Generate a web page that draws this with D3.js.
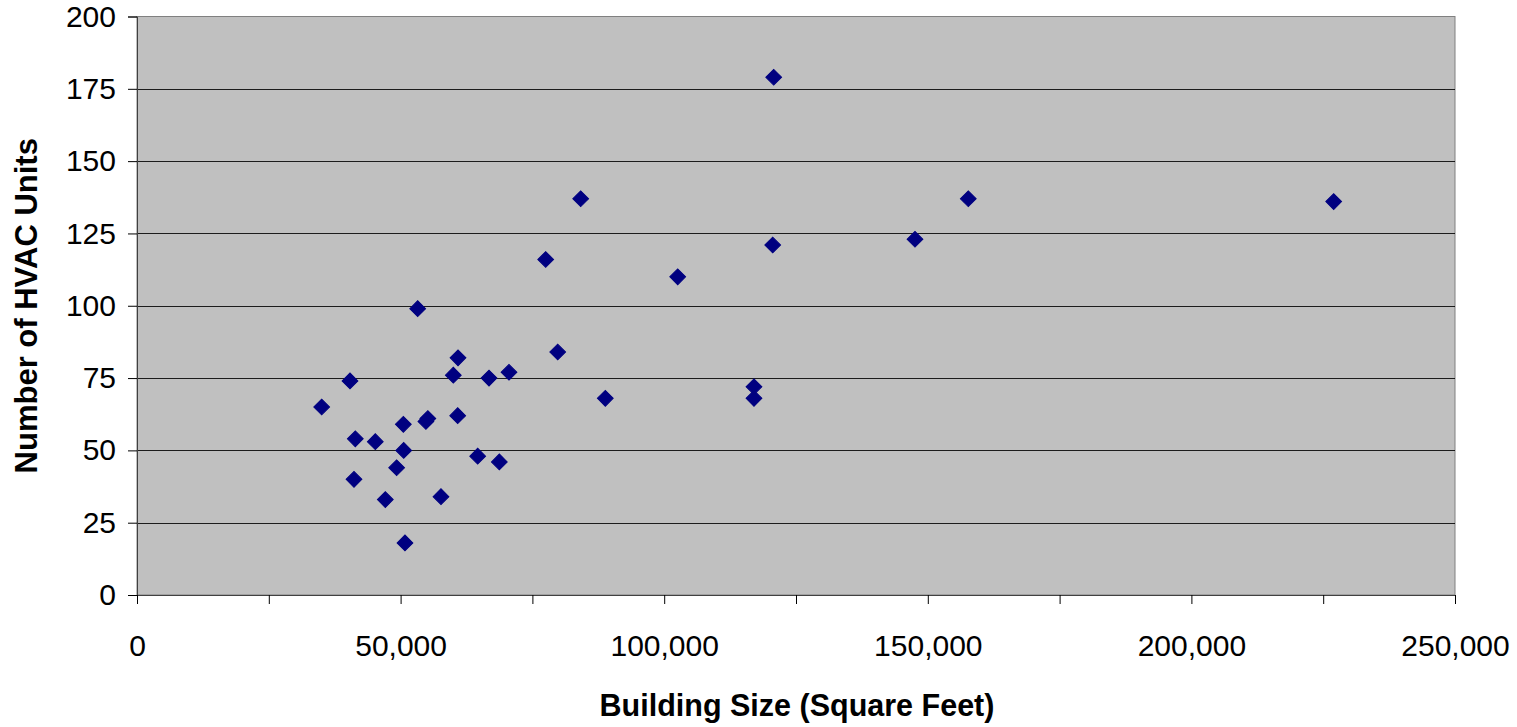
<!DOCTYPE html>
<html>
<head>
<meta charset="utf-8">
<script src="https://cdn.jsdelivr.net/npm/d3@7"></script>
<style>
  html, body { margin: 0; padding: 0; background: #ffffff; }
  svg { display: block; font-family: "Liberation Sans", Arial, sans-serif; }
</style>
</head>
<body>
<svg id="chart" width="1517" height="727"></svg>
<script>
// Building floor area (sq ft) and number of HVAC units per building
const buildingSize = [
  53240, 60890, 40400, 60000, 66770, 70560, 79800, 35030, 88830, 60830,
  55170, 54800, 50520, 41410, 45200, 50590, 64620, 68730, 49250, 41160,
  47100, 57660, 50830, 77520, 84160, 102560, 120770, 120580, 117030, 117030,
  147570, 157680, 226990
];
const hvacUnits = [
  99, 82, 74, 76, 75, 77, 84, 65, 68, 62,
  61, 60, 59, 54, 53, 50, 48, 46, 44, 40,
  33, 34, 18, 116, 137, 110, 179, 121, 72, 68,
  123, 137, 136
];
const xTicks = [0, 50000, 100000, 150000, 200000, 250000];
const xMinorTicks = [25000, 75000, 125000, 175000, 225000];
const yTicks = [0, 25, 50, 75, 100, 125, 150, 175, 200];
const xTitle = "Building Size (Square Feet)";
const yTitle = "Number of HVAC Units";

const points = buildingSize.map((x, i) => ({ x, y: hvacUnits[i] }));

const plot = { left: 137, right: 1455, top: 16.5, bottom: 595 };
const svg = d3.select("#chart");

const x = d3.scaleLinear().domain([0, 250000]).range([plot.left, plot.right]);
const y = d3.scaleLinear().domain([0, 200]).range([plot.bottom, plot.top]);

// plot background
svg.append("rect")
  .attr("x", plot.left).attr("y", plot.top)
  .attr("width", plot.right - plot.left).attr("height", plot.bottom - plot.top)
  .attr("fill", "#c0c0c0")
  .attr("stroke", "#808080").attr("stroke-width", 1);

// horizontal gridlines
svg.append("g").selectAll("line")
  .data(yTicks.filter(d => d > 0 && d < 200))
  .join("line")
  .attr("x1", plot.left).attr("x2", plot.right)
  .attr("y1", d => Math.round(y(d)) + 0.5).attr("y2", d => Math.round(y(d)) + 0.5)
  .attr("stroke", "#000000").attr("stroke-width", 1).attr("opacity", 0.85);

// y axis
const yAxis = svg.append("g")
  .attr("transform", `translate(${plot.left},0)`)
  .call(d3.axisLeft(y).tickValues(yTicks).tickSize(9).tickPadding(12).tickFormat(d3.format("d")));
yAxis.select(".domain").attr("stroke", "#404040");
yAxis.selectAll(".tick line").attr("stroke", "#000");
yAxis.selectAll(".tick text")
  .attr("font-size", "30px").attr("fill", "#000")
  .attr("font-family", "Liberation Sans, Arial, sans-serif");

// x axis with labelled major ticks
const xAxis = svg.append("g")
  .attr("transform", `translate(0,${plot.bottom})`)
  .call(d3.axisBottom(x).tickValues(xTicks).tickSize(9).tickPadding(31).tickFormat(d3.format(",")));
xAxis.select(".domain").attr("stroke", "#404040");
xAxis.selectAll(".tick line").attr("stroke", "#000");
xAxis.selectAll(".tick text")
  .attr("font-size", "30px").attr("fill", "#000")
  .attr("font-family", "Liberation Sans, Arial, sans-serif");

// unlabelled minor ticks between the major ones
svg.append("g")
  .attr("transform", `translate(0,${plot.bottom})`)
  .call(d3.axisBottom(x).tickValues(xMinorTicks).tickSize(9).tickFormat(""))
  .call(g => g.select(".domain").remove())
  .selectAll(".tick line").attr("stroke", "#000");

// diamond markers
const diamond = d3.symbol().type(d3.symbolSquare).size(124);
svg.append("g").selectAll("path")
  .data(points)
  .join("path")
  .attr("d", diamond)
  .attr("transform", d => `translate(${x(d.x)},${y(d.y)}) rotate(45)`)
  .attr("fill", "#000080")
  .attr("stroke", "#000080").attr("stroke-width", 1);

// axis titles
svg.append("text")
  .attr("x", 797).attr("y", 716)
  .attr("text-anchor", "middle")
  .attr("font-size", "30.5px").attr("font-weight", "bold")
  .text(xTitle);

svg.append("text")
  .attr("transform", `translate(37,${(plot.top + plot.bottom) / 2}) rotate(-90)`)
  .attr("text-anchor", "middle")
  .attr("font-size", "31px").attr("font-weight", "bold")
  .text(yTitle);
</script>
</body>
</html>
